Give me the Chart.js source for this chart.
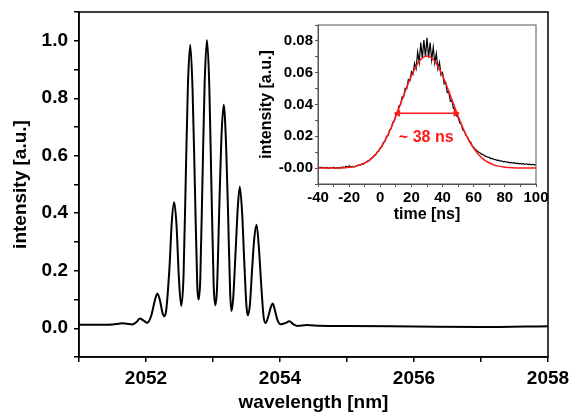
<!DOCTYPE html>
<html>
<head>
<meta charset="utf-8">
<script src="https://cdn.jsdelivr.net/npm/chart.js@4.4.1/dist/chart.umd.min.js"></script>
<style>
  body { margin: 0; background: #fff; }
  #wrap { position: relative; width: 572px; height: 412px; }
  #main { position: absolute; left: 0; top: 0; }
  #inset { position: absolute; left: 250px; top: 18px; }
</style>
</head>
<body>
<div id="wrap">
  <canvas id="main" width="572" height="412"></canvas>
  <canvas id="inset" width="300" height="210"></canvas>
</div>
<script>
// main spectrum
const wavelength = [
  2051.00, 2051.30, 2051.50, 2051.65, 2051.72, 2051.79, 2051.86, 2051.91, 2051.96, 2052.02,
  2052.08, 2052.13, 2052.17, 2052.21, 2052.245, 2052.27,
  2052.30, 2052.35, 2052.385, 2052.42, 2052.455, 2052.49, 2052.525,
  2052.56, 2052.595, 2052.625, 2052.66, 2052.695, 2052.73, 2052.765, 2052.785,
  2052.81, 2052.845, 2052.875, 2052.91, 2052.945, 2052.975, 2053.01, 2053.035,
  2053.06, 2053.095, 2053.125, 2053.16, 2053.195, 2053.225, 2053.255, 2053.275,
  2053.30, 2053.34, 2053.37, 2053.40, 2053.435, 2053.465, 2053.50, 2053.52,
  2053.55, 2053.585, 2053.615, 2053.65, 2053.685, 2053.72, 2053.755, 2053.785,
  2053.83, 2053.865, 2053.89, 2053.925, 2053.96, 2054.01,
  2054.08, 2054.14, 2054.20, 2054.26, 2054.40, 2054.60, 2055.00, 2056.00, 2057.00, 2058.00
];
const intensity = [
  0.012, 0.012, 0.013, 0.017, 0.016, 0.013, 0.022, 0.034, 0.027, 0.019,
  0.045, 0.095, 0.121, 0.095, 0.055, 0.042,
  0.060, 0.210, 0.370, 0.438, 0.360, 0.180, 0.077,
  0.180, 0.540, 0.840, 0.986, 0.830, 0.490, 0.150, 0.100,
  0.170, 0.540, 0.850, 1.003, 0.840, 0.510, 0.150, 0.080,
  0.140, 0.430, 0.660, 0.777, 0.640, 0.400, 0.130, 0.060,
  0.100, 0.280, 0.420, 0.492, 0.400, 0.240, 0.075, 0.045,
  0.080, 0.210, 0.310, 0.360, 0.280, 0.150, 0.040, 0.018,
  0.045, 0.075, 0.086, 0.062, 0.030, 0.014,
  0.018, 0.024, 0.014, 0.008, 0.011, 0.009, 0.008, 0.006, 0.004, 0.007
];

// inset: measured pulse (black) and gaussian fit (red)
const timeNs = [
  -40, -39, -38, -37, -36, -35, -34, -33, -32, -31,
  -30, -29, -28, -27, -26, -25, -24, -23, -22, -21,
  -20, -19, -18, -17, -16, -15, -14, -13, -12, -11,
  -10, -9, -8, -7, -6, -5, -4, -3, -2, -1,
  0, 1, 2, 3, 4, 5, 6, 7, 8, 9,
  10, 11, 12, 13, 14, 15, 16, 17, 18, 19,
  20, 21, 22, 23, 24, 25, 26, 27, 28, 29,
  30, 31, 32, 33, 34, 35, 36, 37, 38, 39,
  40, 41, 42, 43, 44, 45, 46, 47, 48, 49,
  50, 51, 52, 53, 54, 55, 56, 57, 58, 59,
  60, 61, 62, 63, 64, 65, 66, 67, 68, 69,
  70, 71, 72, 73, 74, 75, 76, 77, 78, 79,
  80, 81, 82, 83, 84, 85, 86, 87, 88, 89,
  90, 91, 92, 93, 94, 95, 96, 97, 98, 99,
  100
];
const pulse = [
  0.0008, 0.0002, 0.0006, 0.0001, 0.0005, 0.0000, 0.0004, -0.0002, 0.0003, 0.0001,
  0.0006, -0.0001, 0.0003, 0.0000, 0.0005, 0.0002, 0.0007, 0.0003, 0.0012, 0.0006,
  0.0014, 0.0007, 0.0010, 0.0006, 0.0011, 0.0013, 0.0020, 0.0017, 0.0026, 0.0024,
  0.0034, 0.0035, 0.0046, 0.0047, 0.0061, 0.0063, 0.0080, 0.0083, 0.0101, 0.0106,
  0.0129, 0.0134, 0.0162, 0.0168, 0.0199, 0.0205, 0.0241, 0.0248, 0.0287, 0.0294,
  0.0338, 0.0343, 0.0392, 0.0396, 0.0448, 0.0447, 0.0502, 0.0499, 0.0556, 0.0548,
  0.0606, 0.0590, 0.0660, 0.0625, 0.0730, 0.0665, 0.0790, 0.0690, 0.0805, 0.0700,
  0.0820, 0.0695, 0.0790, 0.0680, 0.0760, 0.0660, 0.0720, 0.0625, 0.0665, 0.0585,
  0.0600, 0.0530, 0.0540, 0.0475, 0.0480, 0.0420, 0.0425, 0.0375, 0.0370, 0.0330,
  0.0320, 0.0285, 0.0275, 0.0240, 0.0232, 0.0205, 0.0196, 0.0170, 0.0165, 0.0140,
  0.0130, 0.0119, 0.0110, 0.0101, 0.0096, 0.0088, 0.0085, 0.0077, 0.0074, 0.0068,
  0.0067, 0.0060, 0.0061, 0.0054, 0.0053, 0.0049, 0.0050, 0.0044, 0.0046, 0.0040,
  0.0042, 0.0037, 0.0039, 0.0033, 0.0036, 0.0031, 0.0034, 0.0029, 0.0031, 0.0027,
  0.0030, 0.0025, 0.0028, 0.0023, 0.0027, 0.0022, 0.0025, 0.0021, 0.0024, 0.0020,
  0.0022
];
const fitTime = [
  -40, -35, -30, -25, -20, -15, -10, -5, 0, 5, 10, 15, 20, 25, 30,
  35, 40, 45, 50, 55, 60, 65, 70, 75, 80, 85, 90, 95, 100
];
const fitValue = [
  0, 0, 0, 0.0001, 0.0006, 0.0014, 0.0032, 0.0066, 0.0124, 0.0211, 0.0326, 0.0457, 0.0581, 0.0672, 0.0705,
  0.0672, 0.0581, 0.0457, 0.0326, 0.0211, 0.0124, 0.0066, 0.0032, 0.0014, 0.0006, 0.0002, 0.0001, 0, 0
];
const fwhmArrowX = [11.3, 48.5];
const fwhmArrowY = [0.0345, 0.0345];
const fwhmText = "~ 38 ns";
const fwhmTextPos = [29.5, 0.019];

const FONT = "'Liberation Sans', Arial, sans-serif";
Chart.defaults.font.family = FONT;
Chart.defaults.font.weight = "bold";
Chart.defaults.color = "#000";

function toXY(xs, ys) {
  return xs.map((x, i) => ({ x: x, y: ys[i] }));
}

// fixed box size, no extra label overhang
function fixSize(prop, size) {
  return (s) => {
    s[prop] = size;
    s.paddingTop = 0;
    s.paddingBottom = 0;
    s.paddingLeft = 0;
    s.paddingRight = 0;
  };
}

// рамка вокруг области графика
const framePlugin = {
  id: "frame",
  afterDraw(chart, args, opts) {
    const { ctx, chartArea: a } = chart;
    ctx.save();
    ctx.strokeStyle = opts.color;
    ctx.lineWidth = opts.width;
    ctx.strokeRect(a.left, a.top, a.right - a.left, a.bottom - a.top);
    ctx.restore();
  },
};

const fwhmLabel = {
  id: "fwhmLabel",
  afterDatasetsDraw(chart) {
    const { ctx, scales } = chart;
    ctx.save();
    ctx.fillStyle = "#ff1a1a";
    ctx.font = "bold 16px " + FONT;
    ctx.textAlign = "center";
    ctx.textBaseline = "middle";
    ctx.fillText(fwhmText, scales.x.getPixelForValue(fwhmTextPos[0]), scales.y.getPixelForValue(fwhmTextPos[1]));
    ctx.restore();
  },
};

new Chart(document.getElementById("main").getContext("2d"), {
  type: "line",
  data: {
    datasets: [
      {
        data: toXY(wavelength, intensity),
        borderColor: "#000",
        borderWidth: 2,
        pointRadius: 0,
        cubicInterpolationMode: "monotone",
      },
    ],
  },
  options: {
    responsive: false,
    animation: false,
    layout: { padding: { left: 0, top: 12, right: 24, bottom: 0 } },
    plugins: { legend: { display: false }, tooltip: { enabled: false }, frame: { color: "#000", width: 1.5 } },
    scales: {
      x: {
        type: "linear",
        min: 2051,
        max: 2058,
        afterFit: fixSize("height", 55),
        ticks: {
          stepSize: 1,
          autoSkip: false,
          maxRotation: 0,
          padding: 5,
          font: { size: 19 },
          callback: (v) => (Math.round(v) % 2 === 0 ? String(Math.round(v)) : ""),
        },
        grid: { drawOnChartArea: false, tickLength: 5, color: "#000", lineWidth: 1.5 },
        border: { color: "#000", width: 1.5 },
        title: { display: true, text: "wavelength [nm]", font: { size: 19, lineHeight: 1 }, padding: { top: 0, bottom: 0 } },
      },
      y: {
        min: -0.1,
        max: 1.1,
        afterFit: fixSize("width", 79),
        ticks: {
          stepSize: 0.1,
          autoSkip: false,
          padding: 6,
          font: { size: 19 },
          callback: (v) => (Math.round(v * 10) % 2 === 0 ? v.toFixed(1) : ""),
        },
        grid: { drawOnChartArea: false, tickLength: 5, color: "#000", lineWidth: 1.5 },
        border: { color: "#000", width: 1.5 },
        title: { display: true, text: "intensity [a.u.]", font: { size: 19, lineHeight: 1 }, padding: { top: 11, bottom: 0 } },
      },
    },
  },
  plugins: [framePlugin],
});

new Chart(document.getElementById("inset").getContext("2d"), {
  type: "line",
  data: {
    datasets: [
      {
        data: toXY(timeNs, pulse),
        borderColor: "#000",
        borderWidth: 1.2,
        pointRadius: 0,
        tension: 0,
        order: 2,
      },
      {
        data: toXY(fitTime, fitValue),
        borderColor: "#ff1a1a",
        borderWidth: 1.5,
        pointRadius: 0,
        cubicInterpolationMode: "monotone",
        order: 1,
      },
      {
        data: toXY(fwhmArrowX, fwhmArrowY),
        borderColor: "#ff1a1a",
        backgroundColor: "#ff1a1a",
        borderWidth: 1.5,
        pointStyle: "triangle",
        pointRotation: [-90, 90],
        pointRadius: 3.5,
        pointBorderWidth: 1,
        order: 0,
      },
    ],
  },
  options: {
    responsive: false,
    animation: false,
    layout: { padding: { left: 0, top: 7, right: 14, bottom: 0 } },
    plugins: { legend: { display: false }, tooltip: { enabled: false }, frame: { color: "#555", width: 1 } },
    scales: {
      x: {
        type: "linear",
        min: -40,
        max: 100,
        afterFit: fixSize("height", 44),
        ticks: {
          stepSize: 10,
          autoSkip: false,
          maxRotation: 0,
          padding: 2,
          font: { size: 15 },
          callback: (v) => (Math.round(v) % 20 === 0 ? String(Math.round(v)) : ""),
        },
        grid: { drawOnChartArea: false, tickLength: 3, color: "#555", lineWidth: 1 },
        border: { color: "#555", width: 1 },
        title: { display: true, text: "time [ns]", font: { size: 16, lineHeight: 1 }, padding: { top: 0, bottom: 5 } },
      },
      y: {
        min: -0.01,
        max: 0.09,
        afterFit: fixSize("width", 68),
        ticks: {
          stepSize: 0.01,
          autoSkip: false,
          padding: 2,
          font: { size: 15 },
          callback: (v) => (Math.round(v * 100) % 2 === 0 ? v.toFixed(2) : ""),
        },
        grid: { drawOnChartArea: false, tickLength: 3, color: "#555", lineWidth: 1 },
        border: { color: "#555", width: 1 },
        title: { display: true, text: "intensity [a.u.]", font: { size: 16, lineHeight: 1 }, padding: { top: 9, bottom: 0 } },
      },
    },
  },
  plugins: [framePlugin, fwhmLabel],
});
</script>
</body>
</html>
